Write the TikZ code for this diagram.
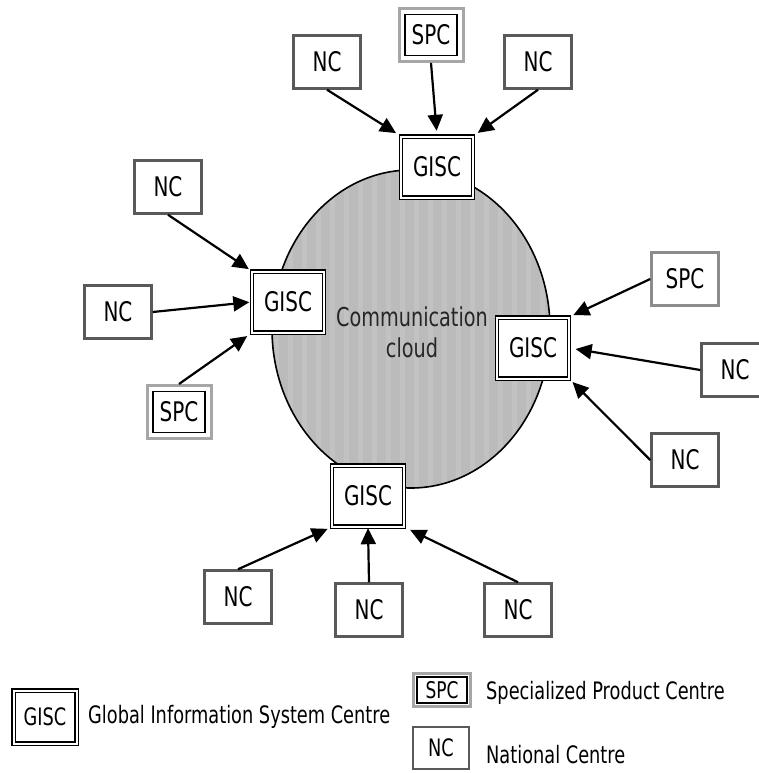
\documentclass[tikz,border=0pt]{standalone}
\usepackage{fontspec}
\setmainfont[FakeStretch=0.74]{DejaVu Sans}
\usetikzlibrary{arrows.meta}
\tikzset{GISC node/.style={rectangle,draw=black,fill=white,double=white,double distance=2pt,line width=1.4pt,minimum width=72pt,minimum height=61pt,inner sep=0pt,font=\fontsize{27}{32}\selectfont},
NC node/.style={rectangle,draw=black!65,fill=white,line width=2.5pt,minimum width=67pt,minimum height=53pt,inner sep=0pt,font=\fontsize{27}{32}\selectfont},
SPC node/.style={NC node,draw=black!35,line width=3pt,minimum width=64pt,minimum height=53pt,
  path picture={\draw[black,line width=1.2pt] ([shift={(#1,-#1)}]path picture bounding box.north west) rectangle ([shift={(-#1,#1)}]path picture bounding box.south east);}},
SPC node/.default=6pt,
G arrow/.style={draw,line width=2.2pt,-{Triangle[length=16pt,width=15pt]}},
legend text/.style={anchor=west,inner sep=0pt,font=\fontsize{24}{29}\selectfont},}

\begin{document}
\begin{tikzpicture}[x=1pt,y=-1pt]
			\path[use as bounding box,clip] (0,0) rectangle (759,773);

			\fill[gray!53] (411,329) ellipse [x radius=139, y radius=159];
			\begin{scope}
				\clip (411,329) ellipse [x radius=139, y radius=159];
				\foreach \s in {0,...,20}
					\fill[gray!48] (274+\s*14,165) rectangle +(5,330);
			\end{scope}
			\draw[line width=1.6pt] (411,329) ellipse [x radius=139, y radius=159];
			\node[align=center,font=\fontsize{26}{31}\selectfont,text=black!85] (cloud) at (412,332) {Communication\\cloud};

			\node[GISC node] (tg) at (437,167) {GISC};
			\node[GISC node] (lg) at (288,302) {GISC};
			\node[GISC node] (rg) at (533,348) {GISC};
			\node[GISC node] (bg) at (368,496) {GISC};

			\node[NC node] (tn1) at (327,62) {NC};
			\node[SPC node] (ts) at (431,35) {SPC};
			\node[NC node] (tn2) at (538,62) {NC};

			\node[NC node] (ln1) at (168,187) {NC};
			\node[NC node] (ln2) at (118,312) {NC};
			\node[SPC node] (ls) at (179,412) {SPC};

			\node[NC node,draw=black!45] (rs) at (685,279) {SPC};
			\node[NC node] (rn1) at (735,370) {NC};
			\node[NC node] (rn2) at (685,460) {NC};

			\node[NC node] (bn1) at (238,597) {NC};
			\node[NC node] (bn2) at (369,610) {NC};
			\node[NC node] (bn3) at (518,610) {NC};

			\path
				(tn1.south) edge[G arrow,shorten >=5pt] (tg.north west)
				(ts.south) edge[G arrow,shorten >=5pt] (tg.north)
				(tn2.south) edge[G arrow,shorten >=5pt] (tg.north east)
				(ln1.south) edge[G arrow,shorten >=3pt] (lg.north west)
				(ln2.east) edge[G arrow,shorten >=2pt] (lg.west)
				(ls.north) edge[G arrow,shorten >=5pt] (lg.south west)
				(rs.west) edge[G arrow,shorten >=4pt] (rg.north east)
				(rn1.west) edge[G arrow,shorten >=6pt] (rg.east)
				(rn2.west) edge[G arrow,shorten >=4pt] (rg.south east)
				(bn1.north) edge[G arrow,shorten >=4pt] (bg.south west)
				(bn2.north) edge[G arrow,shorten >=1pt] (bg.south)
				(bn3.north) edge[G arrow,shorten >=6pt] (bg.south east);

			\node[GISC node,minimum width=63pt,minimum height=53pt,font=\fontsize{24}{28}\selectfont] (kg) at (45,717) {GISC};
			\node[legend text] (kgt) at (88,717) {Global Information System Centre};
			\node[SPC node=3.5pt,minimum width=57pt,minimum height=33pt,font=\fontsize{23}{27}\selectfont] (ks) at (442,690) {SPC};
			\node[legend text] (kst) at (486,693) {Specialized Product Centre};
			\node[NC node,minimum width=56pt,minimum height=42pt,font=\fontsize{24}{28}\selectfont] (kn) at (441,748) {NC};
			\node[legend text] (knt) at (486,755) {National Centre};
		\end{tikzpicture}
\end{document}
